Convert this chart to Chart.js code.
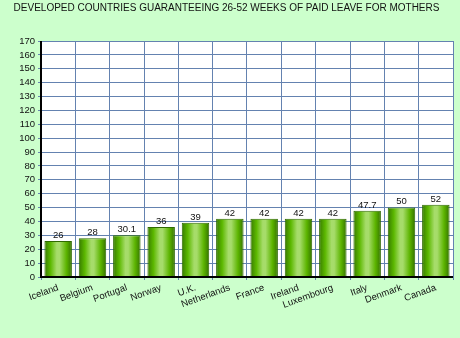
<!DOCTYPE html>
<html>
<head>
<meta charset="utf-8">
<script src="https://cdn.jsdelivr.net/npm/chart.js@4"></script>
<style>
  html, body { margin: 0; padding: 0; background: #ccffcc; }
  #wrap { width: 460px; height: 338px; }
</style>
</head>
<body>
<div id="wrap"><canvas id="chart1" width="460" height="338"></canvas></div>
<script>
const countries = ["Iceland", "Belgium", "Portugal", "Norway", "U.K.", "Netherlands",
  "France", "Ireland", "Luxembourg", "Italy", "Denmark", "Canada"];
const weeks = [26, 28, 30.1, 36, 39, 42, 42, 42, 42, 47.7, 50, 52];
const yMax = 170;
const yStep = 10;

const gridColor = "#6482b0";
const barPct = 0.8;
const fontFam = "Arial, 'Liberation Sans', sans-serif";

// градиент для каждого столбика
function barGradient(ctx) {
  const chart = ctx.chart;
  const xs = chart.scales && chart.scales.x;
  if (!chart.chartArea || !xs || ctx.dataIndex === undefined) return "#6cc000";
  const cx = xs.getPixelForValue(ctx.dataIndex);
  const w = (xs.width / countries.length) * barPct;
  if (!isFinite(cx) || !isFinite(w)) return "#6cc000";
  const g = chart.ctx.createLinearGradient(cx - w / 2, 0, cx + w / 2, 0);
  g.addColorStop(0, "#377a00");
  g.addColorStop(0.22, "#5cb800");
  g.addColorStop(0.45, "#a6dc6a");
  g.addColorStop(0.55, "#a6dc6a");
  g.addColorStop(0.8, "#5cb400");
  g.addColorStop(1, "#347200");
  return g;
}

// подписи значений над столбиками
const valueLabels = {
  id: "valueLabels",
  afterDatasetsDraw(chart) {
    const c = chart.ctx;
    const meta = chart.getDatasetMeta(0);
    c.save();
    c.font = "9.5px " + fontFam;
    c.fillStyle = "#111";
    c.textAlign = "center";
    c.textBaseline = "bottom";
    meta.data.forEach((bar, i) => {
      c.fillText(String(weeks[i]), bar.x, bar.y - 1);
    });
    c.restore();
  }
};

// рамка осей
const axisLines = {
  id: "axisLines",
  afterDatasetsDraw(chart) {
    const a = chart.chartArea;
    const c = chart.ctx;
    c.save();
    c.strokeStyle = "#000";
    c.lineWidth = 2;
    c.beginPath();
    c.moveTo(a.left, a.top);
    c.lineTo(a.left, a.bottom);
    c.lineTo(a.right, a.bottom);
    c.stroke();
    c.restore();
  }
};

const plotBg = {
  id: "plotBg",
  beforeDraw(chart) {
    const a = chart.chartArea;
    chart.ctx.save();
    chart.ctx.fillStyle = "#ffffff";
    chart.ctx.fillRect(a.left, a.top, a.right - a.left, a.bottom - a.top);
    chart.ctx.restore();
  }
};

new Chart(document.getElementById("chart1"), {
  type: "bar",
  data: {
    labels: countries,
    datasets: [{
      data: weeks,
      backgroundColor: barGradient,
      borderColor: "#2f6a00",
      borderWidth: 1,
      barPercentage: barPct,
      categoryPercentage: 1.0
    }]
  },
  options: {
    responsive: false,
    animation: false,
    layout: { padding: { top: 0, right: 7, left: 0, bottom: 0 } },
    scales: {
      y: {
        min: 0,
        max: yMax,
        afterFit(scale) { scale.width = 41; },
        ticks: {
          stepSize: yStep,
          autoSkip: false,
          color: "#111",
          padding: 3,
          font: { family: fontFam, size: 9.5 }
        },
        grid: { color: gridColor, lineWidth: 1, tickLength: 3, drawTicks: true },
        border: { display: false }
      },
      x: {
        afterFit(scale) { scale.height = 61; },
        ticks: {
          autoSkip: false,
          minRotation: 20,
          maxRotation: 20,
          color: "#111",
          padding: 2,
          font: { family: fontFam, size: 9.5 }
        },
        grid: { color: gridColor, lineWidth: 1, offset: true, tickLength: 3 },
        border: { display: false }
      }
    },
    plugins: {
      legend: { display: false },
      tooltip: { enabled: false },
      title: {
        display: true,
        text: "DEVELOPED COUNTRIES GUARANTEEING 26-52 WEEKS OF PAID LEAVE FOR MOTHERS",
        color: "#111",
        font: { family: fontFam, size: 10, weight: "normal" },
        padding: { top: 2, bottom: 27 }
      }
    }
  },
  plugins: [plotBg, valueLabels, axisLines]
});
</script>
</body>
</html>
